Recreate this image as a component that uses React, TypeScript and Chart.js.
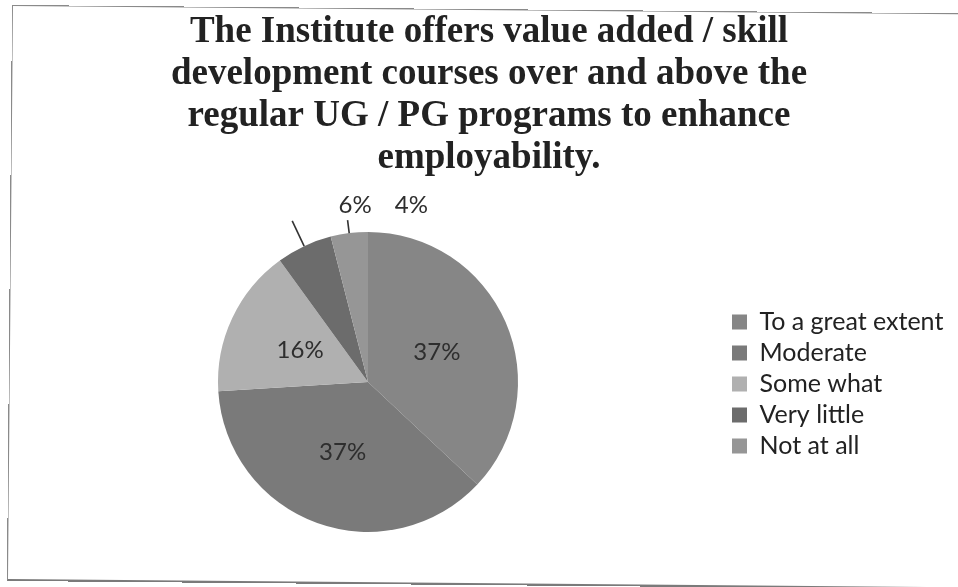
import React, { useEffect, useRef } from 'react';
import { Chart, registerables } from 'chart.js';

Chart.register(...registerables);

const titleLines = [
  'The Institute offers value added / skill',
  'development courses over and above the',
  'regular UG / PG programs to enhance',
  'employability.',
];
const categories = ['To a great extent', 'Moderate', 'Some what', 'Very little', 'Not at all'];
const percentages = [37, 37, 16, 6, 4];
const sliceColors = ['#868686', '#7a7a7a', '#b0b0b0', '#6c6c6c', '#969696'];

// label placement styles (per slice)
const labelOutside = [false, false, false, true, true];
const leaderLength = [0, 0, 0, 28, 13];
const labelAngleShiftDeg = [0, 0, 0, 21, 21];
const labelRadiusGap = [0, 0, 0, 27, 32];

const LEGEND_MIN_WIDTH = 242;

const sliceLabelPlugin = {
  id: 'sliceLabels',
  afterDatasetsDraw(chart: any) {
    const ctx = chart.ctx as CanvasRenderingContext2D;
    const meta = chart.getDatasetMeta(0);
    const values = chart.data.datasets[0].data as number[];
    ctx.save();
    ctx.font = '24px Lato';
    ctx.fillStyle = '#2e2e2e';
    ctx.textAlign = 'center';
    ctx.textBaseline = 'middle';
    ctx.strokeStyle = '#333333';
    ctx.lineWidth = 1.6;
    meta.data.forEach((el: any, i: number) => {
      const { x, y, startAngle, endAngle, outerRadius } = el.getProps(
        ['x', 'y', 'startAngle', 'endAngle', 'outerRadius'],
        true
      );
      const mid = (startAngle + endAngle) / 2;
      const text = values[i] + '%';
      if (!labelOutside[i]) {
        const r = outerRadius * 0.5;
        ctx.fillText(text, x + Math.cos(mid) * r, y + Math.sin(mid) * r);
      } else {
        const r1 = outerRadius;
        const r2 = outerRadius + leaderLength[i];
        ctx.beginPath();
        ctx.moveTo(x + Math.cos(mid) * r1, y + Math.sin(mid) * r1);
        ctx.lineTo(x + Math.cos(mid) * r2, y + Math.sin(mid) * r2);
        ctx.stroke();
        const a = mid + (labelAngleShiftDeg[i] * Math.PI) / 180;
        const r = outerRadius + labelRadiusGap[i];
        ctx.fillText(text, x + Math.cos(a) * r, y + Math.sin(a) * r);
      }
    });
    ctx.restore();
  },
};

// keeps the legend column at a fixed minimum width so the pie sits where it does in the reference
const legendWidthPlugin = {
  id: 'legendWidth',
  beforeLayout(chart: any) {
    const legend = chart.legend;
    if (legend && !legend.__widthPatched) {
      const origFit = legend.fit.bind(legend);
      legend.fit = function () {
        origFit();
        this.width = Math.max(this.width, LEGEND_MIN_WIDTH);
      };
      legend.__widthPatched = true;
    }
  },
};

export default function App() {
  const canvasRef = useRef<HTMLCanvasElement | null>(null);

  useEffect(() => {
    document.body.style.margin = '0';
    const canvas = canvasRef.current;
    if (!canvas) return;
    const chart = new Chart(canvas, {
      type: 'pie',
      data: {
        labels: categories,
        datasets: [
          {
            data: percentages,
            backgroundColor: sliceColors,
            borderWidth: 0,
            hoverOffset: 0,
            radius: 150,
          } as any,
        ],
      },
      options: {
        responsive: false,
        animation: false,
        layout: { padding: { left: 10, right: -10, top: 0, bottom: 8 } },
        plugins: {
          title: {
            display: true,
            text: titleLines,
            color: '#222222',
            font: { family: '"Liberation Serif"', size: 37, weight: 'bold', lineHeight: 1.127 },
            padding: { top: 12, bottom: 6 },
          },
          legend: {
            display: true,
            position: 'right',
            align: 'center',
            fullSize: false,
            title: { display: true, text: '', font: { size: 4, lineHeight: 1 }, padding: 0 },
            labels: {
              boxWidth: 15,
              boxHeight: 15,
              padding: 6,
              color: '#222222',
              font: { family: 'Lato', size: 25 },
            },
          },
          tooltip: { enabled: false },
        },
      },
      plugins: [legendWidthPlugin, sliceLabelPlugin],
    });
    return () => chart.destroy();
  }, []);

  return (
    <div style={{ position: 'fixed', left: 0, top: 0, width: 958, height: 587, background: '#ffffff', overflow: 'hidden' }}>
      <canvas ref={canvasRef} width={958} height={587} style={{ display: 'block', width: 958, height: 587 }} />
      <div
        style={{
          position: 'absolute',
          left: 12,
          top: 5,
          width: 1000,
          height: 573,
          borderTop: '1px solid #8a8a8a',
          borderLeft: '1px solid #8a8a8a',
          borderBottom: '2px solid #7a7a7a',
          transform: 'rotate(0.5deg)',
          transformOrigin: 'top left',
          pointerEvents: 'none',
        }}
      />
    </div>
  );
}
